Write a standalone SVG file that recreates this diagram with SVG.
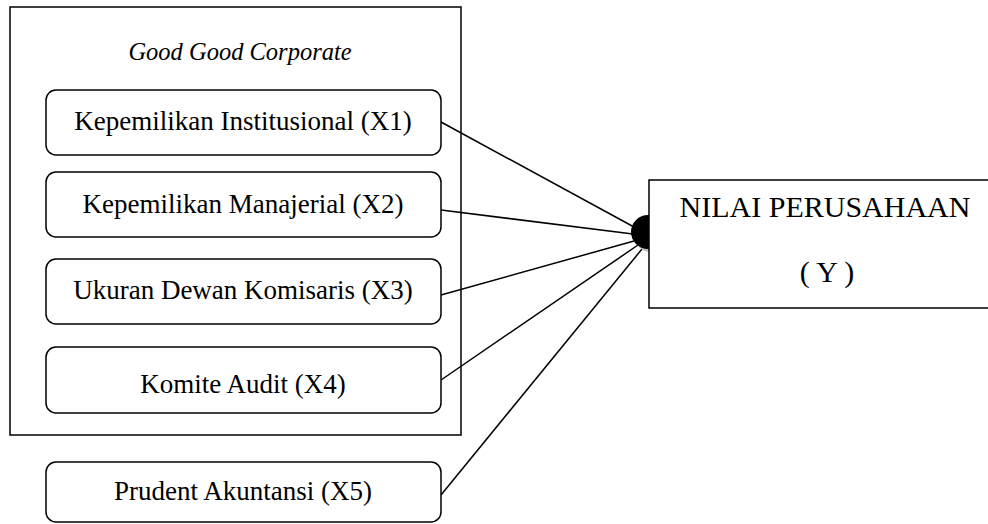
<svg xmlns="http://www.w3.org/2000/svg" width="988" height="524" viewBox="0 0 988 524">
<style>
.box{fill:#fff;stroke:#000;stroke-width:1.5}
.t{font-family:"Liberation Serif","Times New Roman",serif;font-size:27px;fill:#000;text-anchor:middle}
.i{font-style:italic;font-size:24.5px}
.y{font-size:30px}
.c{stroke:#000;stroke-width:1.5;fill:none}
</style>
<rect width="988" height="524" fill="#fff"/>
<g id="group-gcg">
<rect class="box" x="10" y="7" width="451" height="428"/>
<text class="t i" x="240" y="60">Good Good Corporate</text>
</g>
<g id="connectors">
<line class="c" x1="441" y1="122" x2="634" y2="227"/>
<line class="c" x1="441" y1="210" x2="633" y2="234"/>
<line class="c" x1="441" y1="295" x2="634" y2="241"/>
<line class="c" x1="441" y1="380" x2="638" y2="245"/>
<line class="c" x1="441" y1="495" x2="642" y2="249"/>
</g>
<g id="x1"><rect class="box" x="46" y="90" width="395" height="65" rx="10"/><text class="t" x="243" y="130">Kepemilikan Institusional (X1)</text></g>
<g id="x2"><rect class="box" x="46" y="172" width="395" height="65" rx="10"/><text class="t" x="243" y="213">Kepemilikan Manajerial (X2)</text></g>
<g id="x3"><rect class="box" x="46" y="259" width="395" height="65" rx="10"/><text class="t" x="243" y="299">Ukuran Dewan Komisaris (X3)</text></g>
<g id="x4"><rect class="box" x="46" y="347" width="395" height="66" rx="10"/><text class="t" x="243" y="393">Komite Audit (X4)</text></g>
<g id="x5"><rect class="box" x="46" y="462" width="395" height="60" rx="10"/><text class="t" x="243" y="500">Prudent Akuntansi (X5)</text></g>
<g id="y">
<circle cx="651" cy="235" r="17" fill="#bbb"/>
<circle cx="648" cy="232" r="17" fill="#000"/>
<rect class="box" x="649" y="180" width="345" height="128"/>
<text class="t y" x="825" y="217">NILAI PERUSAHAAN</text>
<text class="t y" x="827" y="282">( Y )</text>
</g>
</svg>
